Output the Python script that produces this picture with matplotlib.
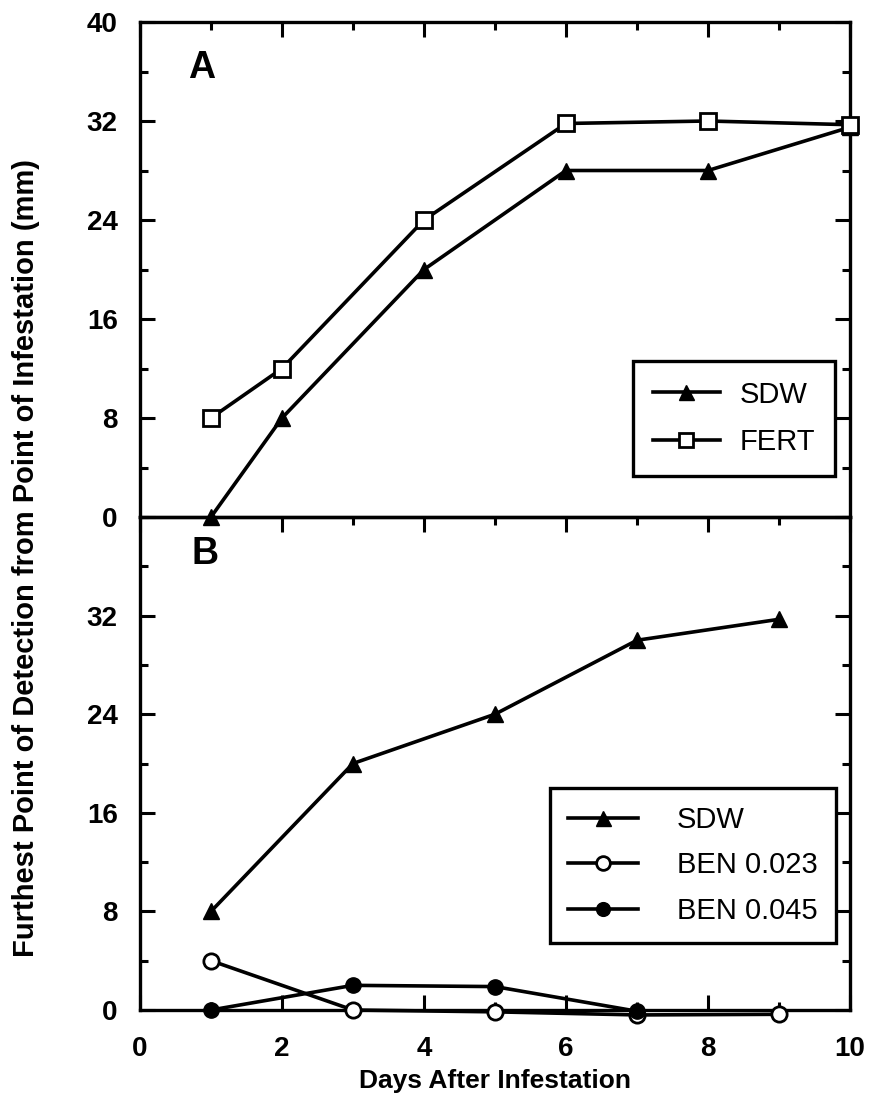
import matplotlib
matplotlib.use("Agg")
import matplotlib.pyplot as plt
from matplotlib.ticker import MultipleLocator

# panel A data
days_a = [1, 2, 4, 6, 8, 10]
sdw_a = [0, 8, 20, 28, 28, 31.5]
fert_a = [8, 12, 24, 31.8, 32, 31.7]

# panel B data
days_b = [1, 3, 5, 7, 9]
sdw_b = [8, 20, 24, 30, 31.7]
ben023_b = [4, 0, -0.15, -0.4, -0.35]
days_b045 = [1, 3, 5, 7]
ben045_b = [0, 2, 1.9, -0.1]

plt.rcParams['font.family'] = ['Liberation Sans', 'DejaVu Sans']

fig = plt.figure(figsize=(8.77, 10.99), dpi=100)
axA = fig.add_axes([140/877, 1-517/1099, 710/877, 495/1099])
axB = fig.add_axes([140/877, 1-1010/1099, 710/877, 493/1099])
# keep panel A on top so its markers on the shared edge are not hidden
axA.set_zorder(2)
axA.patch.set_alpha(0)

lw = 2.6
for ax in (axA, axB):
    ax.set_xlim(0, 10)
    ax.set_ylim(0, 40)
    ax.xaxis.set_major_locator(MultipleLocator(2))
    ax.xaxis.set_minor_locator(MultipleLocator(1))
    ax.yaxis.set_major_locator(MultipleLocator(8))
    ax.yaxis.set_minor_locator(MultipleLocator(4))
    ax.tick_params(which='both', direction='in', top=True, right=True, width=2.2)
    ax.tick_params(which='major', length=11)
    ax.tick_params(which='minor', length=6)
    ax.tick_params(axis='y', pad=16)
    for s in ax.spines.values():
        s.set_linewidth(2.4)

axA.tick_params(which='both', bottom=False, labelbottom=False)
axA.set_yticks([0, 8, 16, 24, 32, 40])
axA.set_yticklabels(['0', '8', '16', '24', '32', '40'], fontsize=20, fontweight='bold')
axB.set_yticks([0, 8, 16, 24, 32])
axB.set_yticklabels(['0', '8', '16', '24', '32'], fontsize=20, fontweight='bold')
axB.set_xticks([0, 2, 4, 6, 8, 10])
axB.set_xticklabels(['0', '2', '4', '6', '8', '10'], fontsize=20, fontweight='bold')
axB.tick_params(axis='x', pad=19)

axA.plot(days_a, sdw_a, color='black', lw=lw, marker='^', ms=12, mfc='black', mec='black', label='SDW', clip_on=False, zorder=3)
axA.plot(days_a, fert_a, color='black', lw=lw, marker='s', ms=11, mfc='white', mec='black', mew=2, label='FERT', clip_on=False, zorder=3)

axB.plot(days_b, sdw_b, color='black', lw=lw, marker='^', ms=12, mfc='black', mec='black', label='SDW', clip_on=False, zorder=3)
axB.plot(days_b, ben023_b, color='black', lw=lw, marker='o', ms=11, mfc='white', mec='black', mew=2, label='BEN 0.023', clip_on=False, zorder=3)
axB.plot(days_b045, ben045_b, color='black', lw=lw, marker='o', ms=11, mfc='black', mec='black', label='BEN 0.045', clip_on=False, zorder=3)

legA = axA.legend(loc='lower right', bbox_to_anchor=(0.979, 0.083), borderaxespad=0,
                  fontsize=21, handlelength=2.3, handletextpad=0.7, labelspacing=0.68,
                  borderpad=0.67, fancybox=False, framealpha=1, edgecolor='black',
                  markerscale=0.9)
legA.get_frame().set_linewidth(2.4)
legB = axB.legend(loc='lower right', bbox_to_anchor=(0.980, 0.136), borderaxespad=0,
                  fontsize=21, handlelength=2.4, handletextpad=1.35, labelspacing=0.6,
                  borderpad=0.62, fancybox=False, framealpha=1, edgecolor='black',
                  markerscale=0.9)
legB.get_frame().set_linewidth(2.4)

axA.text(0.87, 36.3, 'A', fontsize=27, fontweight='bold', ha='center', va='center')
axB.text(0.92, 37.0, 'B', fontsize=27, fontweight='bold', ha='center', va='center')

fig.text(26/877, 1-558/1099, 'Furthest Point of Detection from Point of Infestation (mm)',
         rotation=90, ha='center', va='center', fontsize=21, fontweight='bold')
fig.text(495/877, 1-1081/1099, 'Days After Infestation', ha='center', va='center',
         fontsize=19, fontweight='bold')

fig.savefig('out.png', dpi=100)
